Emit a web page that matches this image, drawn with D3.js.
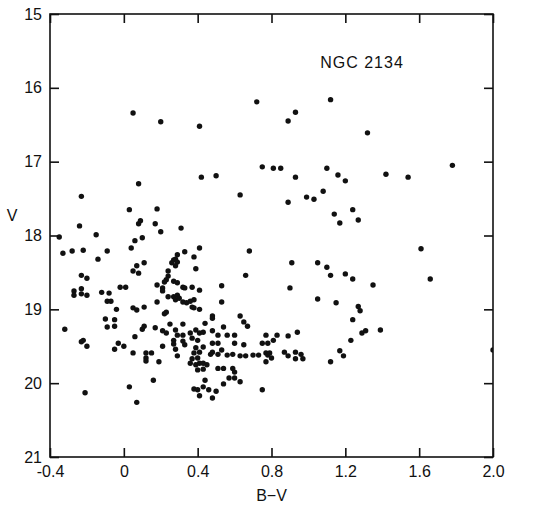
<!DOCTYPE html>
<html>
<head>
<meta charset="utf-8">
<script src="https://cdn.jsdelivr.net/npm/d3@7"></script>
<style>
  body { margin: 0; background: #fff; }
  text { font-family: "Liberation Sans", Arial, sans-serif; fill: #111; }
</style>
</head>
<body>
<div id="chart"></div>
<script>
// B-V colour and V magnitude of each star
const bv = [
  0.05, 0.20, 0.41, 0.72, 0.89, 0.93, 1.12, 1.32, 1.78, 0.75,
  0.81, 0.85, 1.10, 1.16, 1.20, 1.42, 1.54, 0.42, 0.50, 0.93,
  0.63, 0.89, 0.99, 1.03, 1.08, 1.14, 1.17, 1.24, 1.27, 0.08,
  -0.23, 0.03, 0.18, -0.24, 0.08, 0.09, 0.17, 0.20, 0.31, -0.35,
  -0.15, 0.06, 0.10, -0.33, -0.28, -0.22, -0.09, 0.04, -0.14, 0.05,
  0.07, 0.08, 0.11, -0.23, -0.20, -0.27, -0.27, -0.23, -0.23, -0.20,
  -0.12, -0.08, -0.09, -0.07, -0.02, 0.01, -0.04, 0.05, 0.11, 0.07,
  1.61, 1.66, 0.68, 0.66, 0.91, 1.05, 1.10, 1.12, 1.20, 1.24,
  1.35, 0.53, 0.90, 0.53, 1.05, 1.15, 1.27, 1.28, 1.24, 1.29,
  1.31, 1.39, 1.23, 1.17, 1.19, 1.12, 2.00,
  0.33, 0.29, 0.28, 0.27, 0.38, 0.29, 0.26, 0.28, 0.39, 0.24,
  0.24, 0.23, 0.22, 0.27, 0.29, 0.32, 0.33, 0.37, 0.18, 0.21,
  0.21, 0.24, 0.27, 0.29, 0.28, 0.30, 0.32, 0.34, 0.36, 0.38,
  0.37, 0.38, 0.18, 0.23, 0.22, 0.25, 0.32, 0.41, 0.41, 0.41,
  0.17, 0.21, 0.23, 0.28, 0.29, 0.27, 0.27, 0.32, 0.36, 0.39,
  0.41, 0.43, 0.32, 0.37, 0.40, 0.21, 0.33, 0.28, 0.39, 0.43,
  0.15, 0.29, 0.38, 0.41, 0.37, 0.40, 0.36, 0.39, 0.41, 0.19,
  0.40, 0.43, 0.16, 0.38, 0.40, 0.43, 0.41,
  0.48, 0.48, 0.44, 0.63, 0.65, 0.67, 0.54, 0.48, 0.51, 0.56,
  0.60, 0.77, 0.60, 0.65, 0.75, 0.78, 0.48, 0.51, 0.53, 0.48,
  0.47, 0.51, 0.56, 0.59, 0.63, 0.66, 0.70, 0.73, 0.77, 0.78,
  0.43, 0.45, 0.51, 0.54, 0.59, 0.60, 0.57, 0.60, 0.63, 0.54,
  0.44, 0.46, 0.50, 0.48, 0.75, 0.94, 0.89, 0.83, 0.81, 0.87,
  0.89, 0.93, 0.96, 0.93, 0.97, 0.79, 0.80, 0.77,
  -0.32, -0.23, -0.22, -0.20, -0.21, -0.10, -0.09, -0.05, -0.05, -0.03,
  0.00, -0.05, 0.06, 0.05, 0.10, 0.11, 0.12, 0.12, 0.12, 0.03,
  0.07
];
const vmag = [
  16.34, 16.46, 16.52, 16.19, 16.45, 16.33, 16.16, 16.61, 17.05, 17.07,
  17.09, 17.09, 17.09, 17.18, 17.26, 17.17, 17.21, 17.21, 17.19, 17.21,
  17.45, 17.55, 17.48, 17.51, 17.40, 17.71, 17.83, 17.65, 17.79, 17.30,
  17.47, 17.65, 17.64, 17.87, 17.84, 17.80, 17.84, 17.95, 17.90, 18.02,
  17.99, 18.07, 18.03, 18.24, 18.21, 18.20, 18.21, 18.17, 18.32, 18.48,
  18.41, 18.51, 18.37, 18.54, 18.58, 18.75, 18.81, 18.72, 18.79, 18.81,
  18.77, 18.78, 18.89, 18.89, 18.70, 18.70, 19.00, 18.98, 18.97, 19.01,
  18.18, 18.59, 18.21, 18.54, 18.37, 18.37, 18.43, 18.54, 18.52, 18.59,
  18.67, 18.68, 18.71, 18.90, 18.86, 18.91, 18.96, 19.02, 19.14, 19.32,
  19.29, 19.28, 19.42, 19.56, 19.63, 19.71, 19.55,
  18.22, 18.26, 18.32, 18.33, 18.29, 18.36, 18.37, 18.41, 18.45, 18.48,
  18.55, 18.60, 18.63, 18.62, 18.64, 18.70, 18.71, 18.70, 18.67, 18.71,
  18.75, 18.83, 18.83, 18.81, 18.87, 18.85, 18.90, 18.91, 18.89, 18.87,
  18.97, 18.98, 18.90, 19.04, 19.06, 19.20, 19.20, 18.17, 18.74, 19.00,
  19.25, 19.29, 19.32, 19.28, 19.35, 19.42, 19.47, 19.35, 19.32, 19.28,
  19.32, 19.31, 19.43, 19.39, 19.42, 19.50, 19.48, 19.54, 19.52, 19.51,
  19.59, 19.63, 19.59, 19.58, 19.67, 19.66, 19.73, 19.75, 19.73, 19.71,
  19.82, 19.81, 19.96, 20.08, 20.09, 20.05, 20.17,
  19.09, 19.12, 19.19, 19.09, 19.17, 19.23, 19.24, 19.29, 19.35, 19.35,
  19.35, 19.35, 19.46, 19.48, 19.46, 19.46, 19.46, 19.46, 19.55, 19.58,
  19.61, 19.61, 19.62, 19.61, 19.63, 19.63, 19.62, 19.62, 19.59, 19.62,
  19.73, 19.75, 19.80, 19.80, 19.80, 19.85, 19.93, 19.93, 19.98, 20.01,
  19.96, 20.09, 20.11, 20.20, 20.09, 19.31, 19.36, 19.35, 19.42, 19.58,
  19.63, 19.58, 19.61, 19.67, 19.67, 19.59, 19.66, 19.71,
  19.27, 19.44, 19.42, 19.50, 20.13, 19.13, 19.24, 19.14, 19.23, 19.46,
  19.50, 19.54, 19.37, 19.59, 19.27, 19.23, 19.59, 19.66, 19.70, 20.05,
  20.26
];
const xTicks = [-0.4, 0, 0.4, 0.8, 1.2, 1.6, 2.0];
const xTickLabels = ["-0.4", "0", "0.4", "0.8", "1.2", "1.6", "2.0"];
const yTicks = [15, 16, 17, 18, 19, 20, 21];
const title = "NGC 2134";

const width = 560, height = 516;
const margin = { top: 14, right: 67, bottom: 59, left: 50 };
const innerW = width - margin.left - margin.right;
const innerH = height - margin.top - margin.bottom;

const svg = d3.select("#chart").append("svg")
  .attr("width", width)
  .attr("height", height);

const g = svg.append("g")
  .attr("transform", `translate(${margin.left},${margin.top})`);

const x = d3.scaleLinear().domain([-0.4, 2.0]).range([0, innerW]);
const y = d3.scaleLinear().domain([15, 21]).range([0, innerH]);

g.append("clipPath").attr("id", "plot-clip")
  .append("rect").attr("width", innerW).attr("height", innerH);

// axes with inward ticks on all four sides
const tick = 9;
g.append("g")
  .attr("transform", `translate(0,${innerH})`)
  .call(d3.axisBottom(x).tickValues(xTicks).tickSize(-tick).tickSizeOuter(0)
    .tickPadding(9).tickFormat((d, i) => xTickLabels[i]));
g.append("g")
  .call(d3.axisTop(x).tickValues(xTicks).tickSize(-tick).tickSizeOuter(0).tickFormat(""));
g.append("g")
  .call(d3.axisLeft(y).tickValues(yTicks).tickSize(-tick).tickSizeOuter(0)
    .tickPadding(8).tickFormat(d3.format("d")));
g.append("g")
  .attr("transform", `translate(${innerW},0)`)
  .call(d3.axisRight(y).tickValues(yTicks).tickSize(-tick).tickSizeOuter(0).tickFormat(""));

g.selectAll(".domain").remove();
g.selectAll(".tick line").attr("stroke", "#111").attr("stroke-width", 1.6);
g.selectAll(".tick text").style("font-size", "16px").attr("fill", "#111");

g.append("rect")
  .attr("width", innerW)
  .attr("height", innerH)
  .attr("fill", "none")
  .attr("stroke", "#111")
  .attr("stroke-width", 1.6);

g.append("g")
  .attr("clip-path", "url(#plot-clip)")
  .selectAll("circle")
  .data(bv.map((d, i) => [d, vmag[i]]))
  .join("circle")
  .attr("cx", d => x(d[0]))
  .attr("cy", d => y(d[1]))
  .attr("r", 2.7)
  .attr("fill", "#111");

svg.append("text")
  .attr("x", margin.left + innerW / 2)
  .attr("y", 501)
  .attr("text-anchor", "middle")
  .style("font-size", "16px")
  .text("B\u2212V");

svg.append("text")
  .attr("x", 12)
  .attr("y", 221)
  .attr("text-anchor", "middle")
  .style("font-size", "16px")
  .text("V");

svg.append("text")
  .attr("x", 362)
  .attr("y", 68)
  .attr("text-anchor", "middle")
  .style("font-size", "16px")
  .style("letter-spacing", "1px")
  .text(title);
</script>
</body>
</html>
